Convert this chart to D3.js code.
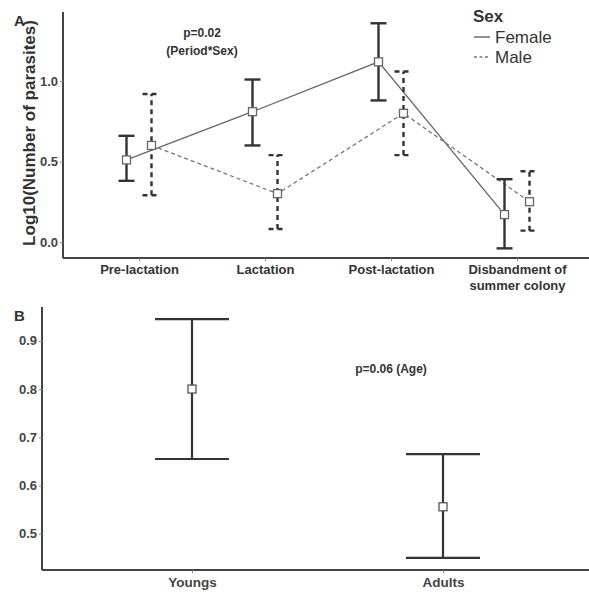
<!DOCTYPE html>
<html><head><meta charset="utf-8">
<script src="https://cdn.jsdelivr.net/npm/d3@7/dist/d3.min.js"></script>
<style>body{margin:0;background:#fff;} svg{display:block;font-family:Arial,"Liberation Sans",sans-serif;}</style>
</head><body>
<svg id="c" width="589" height="594"></svg>
<script>
const periods = ["Pre-lactation","Lactation","Post-lactation","Disbandment of summer colony"];
const femaleMean = [0.51, 0.81, 1.12, 0.17];
const femaleLow  = [0.38, 0.60, 0.88, -0.04];
const femaleHigh = [0.66, 1.01, 1.36, 0.39];
const maleMean = [0.60, 0.30, 0.80, 0.25];
const maleLow  = [0.29, 0.08, 0.54, 0.07];
const maleHigh = [0.92, 0.54, 1.06, 0.44];
const ticksA = [0.0, 0.5, 1.0];
const ageGroups = ["Youngs","Adults"];
const ageMean = [0.80, 0.556];
const ageLow  = [0.655, 0.45];
const ageHigh = [0.945, 0.665];
const ticksB = [0.5, 0.6, 0.7, 0.8, 0.9];

const svg = d3.select("#c");
const axisCol = "#444", barCol = "#333";

// ---------- Panel A ----------
const xA = d3.scalePoint().domain(periods).range([139, 517]);
const yA = d3.scaleLinear().domain([-0.1, 1.43]).range([258, 12]);
const dodge = 12.5;

const gA = svg.append("g");
const yAxisA = gA.append("g").attr("transform","translate(63,0)")
  .call(d3.axisLeft(yA).tickValues(ticksA).tickFormat(d3.format(".1f")).tickSize(3).tickSizeOuter(0));
const xAxisA = gA.append("g").attr("transform","translate(0,258)")
  .call(d3.axisBottom(xA).tickSize(3).tickSizeOuter(0));
[yAxisA, xAxisA].forEach(a=>{
  a.select(".domain").attr("stroke",axisCol).attr("stroke-width",2);
  a.selectAll(".tick line").attr("stroke","#888");
});
yAxisA.select(".domain").attr("d","M0,12V258");
xAxisA.select(".domain").attr("d","M63,0H589");
yAxisA.selectAll("text").attr("font-size",13).attr("font-weight","bold").attr("fill","#444").attr("x",-5);
xAxisA.selectAll(".tick text").each(function(d){
  const t = d3.select(this).text("").attr("font-size",13).attr("font-weight","bold").attr("fill","#333").attr("y",7);
  const parts = d === "Disbandment of summer colony" ? ["Disbandment of","summer colony"] : [d];
  parts.forEach((p,i)=> t.append("tspan").attr("x",0).attr("dy", i===0 ? "0.71em" : "1.2em").text(p));
});

const idx = d3.range(periods.length);
const lineF = d3.line().x(i=>xA(periods[i])-dodge).y(i=>yA(femaleMean[i]));
const lineM = d3.line().x(i=>xA(periods[i])+dodge).y(i=>yA(maleMean[i]));
gA.append("path").attr("d",lineF(idx)).attr("fill","none").attr("stroke","#666").attr("stroke-width",1.3);
gA.append("path").attr("d",lineM(idx)).attr("fill","none").attr("stroke","#777").attr("stroke-width",1.3).attr("stroke-dasharray","4,3");

function errBars(g, xs, lo, hi, cap, col, width, dash){
  idx.forEach(i=>{
    const x = xs(i);
    const gg = g.append("g").attr("stroke",col).attr("stroke-width",width).attr("fill","none");
    if(dash) gg.attr("stroke-dasharray",dash);
    gg.append("line").attr("x1",x).attr("x2",x).attr("y1",yA(lo[i])).attr("y2",yA(hi[i]));
    gg.append("line").attr("x1",x-cap/2).attr("x2",x+cap/2).attr("y1",yA(lo[i])).attr("y2",yA(lo[i]));
    gg.append("line").attr("x1",x-cap/2).attr("x2",x+cap/2).attr("y1",yA(hi[i])).attr("y2",yA(hi[i]));
  });
}
errBars(gA, i=>xA(periods[i])-dodge, femaleLow, femaleHigh, 16, barCol, 2.4, null);
errBars(gA, i=>xA(periods[i])+dodge, maleLow, maleHigh, 18, barCol, 2.4, "5,4");

const ms = 8;
idx.forEach(i=>{
  gA.append("rect").attr("x",xA(periods[i])-dodge-ms/2).attr("y",yA(femaleMean[i])-ms/2).attr("width",ms).attr("height",ms)
    .attr("fill","#fff").attr("stroke","#666").attr("stroke-width",1.3);
  gA.append("rect").attr("x",xA(periods[i])+dodge-ms/2).attr("y",yA(maleMean[i])-ms/2).attr("width",ms).attr("height",ms)
    .attr("fill","#fff").attr("stroke","#666").attr("stroke-width",1.3);
});

svg.append("text").attr("x",14).attr("y",26).attr("font-size",15).attr("font-weight","bold").attr("fill","#333").text("A");
svg.append("text").attr("transform","translate(35,133) rotate(-90)").attr("text-anchor","middle")
  .attr("font-size",17).attr("font-weight","bold").attr("fill","#333").text("Log10(Number of parasites)");
svg.append("text").attr("x",202).attr("y",37).attr("text-anchor","middle").attr("font-size",12).attr("font-weight","bold").attr("fill","#333").text("p=0.02");
svg.append("text").attr("x",202).attr("y",55).attr("text-anchor","middle").attr("font-size",12).attr("font-weight","bold").attr("fill","#333").text("(Period*Sex)");

const lg = svg.append("g");
lg.append("text").attr("x",473).attr("y",22).attr("font-size",17).attr("font-weight","bold").attr("fill","#333").text("Sex");
lg.append("line").attr("x1",474).attr("x2",490).attr("y1",37).attr("y2",37).attr("stroke","#555").attr("stroke-width",1.3);
lg.append("line").attr("x1",474).attr("x2",490).attr("y1",57).attr("y2",57).attr("stroke","#777").attr("stroke-width",1.3).attr("stroke-dasharray","3,2.5");
lg.append("text").attr("x",495).attr("y",43).attr("font-size",17).attr("fill","#333").text("Female");
lg.append("text").attr("x",495).attr("y",63).attr("font-size",17).attr("fill","#333").text("Male");

// ---------- Panel B ----------
const xB = d3.scalePoint().domain(ageGroups).range([192, 443]);
const yB = d3.scaleLinear().domain([0.425, 0.97]).range([570, 307]);
const gB = svg.append("g");
const yAxisB = gB.append("g").attr("transform","translate(42,0)")
  .call(d3.axisLeft(yB).tickValues(ticksB).tickFormat(d3.format(".1f")).tickSize(3).tickSizeOuter(0));
const xAxisB = gB.append("g").attr("transform","translate(0,570)")
  .call(d3.axisBottom(xB).tickSize(3).tickSizeOuter(0));
[yAxisB, xAxisB].forEach(a=>{
  a.select(".domain").attr("stroke",axisCol).attr("stroke-width",2);
  a.selectAll(".tick line").attr("stroke","#888");
});
yAxisB.select(".domain").attr("d","M0,307V570");
xAxisB.select(".domain").attr("d","M42,0H589");
yAxisB.selectAll("text").attr("font-size",13).attr("font-weight","bold").attr("fill","#444").attr("x",-5);
xAxisB.selectAll("text").attr("font-size",13.5).attr("font-weight","bold").attr("fill","#444").attr("y",7);

ageGroups.forEach((a,i)=>{
  const x = xB(a);
  const gg = gB.append("g").attr("stroke",barCol).attr("stroke-width",2.2);
  gg.append("line").attr("x1",x).attr("x2",x).attr("y1",yB(ageLow[i])).attr("y2",yB(ageHigh[i]));
  gg.append("line").attr("x1",x-37).attr("x2",x+37).attr("y1",yB(ageLow[i])).attr("y2",yB(ageLow[i]));
  gg.append("line").attr("x1",x-37).attr("x2",x+37).attr("y1",yB(ageHigh[i])).attr("y2",yB(ageHigh[i]));
  gB.append("rect").attr("x",x-ms/2).attr("y",yB(ageMean[i])-ms/2).attr("width",ms).attr("height",ms)
    .attr("fill","#fff").attr("stroke","#555").attr("stroke-width",1.3);
});
svg.append("text").attr("x",14).attr("y",321).attr("font-size",15).attr("font-weight","bold").attr("fill","#333").text("B");
svg.append("text").attr("x",391).attr("y",373).attr("text-anchor","middle").attr("font-size",12).attr("font-weight","bold").attr("fill","#333").text("p=0.06 (Age)");
</script>
</body></html>
